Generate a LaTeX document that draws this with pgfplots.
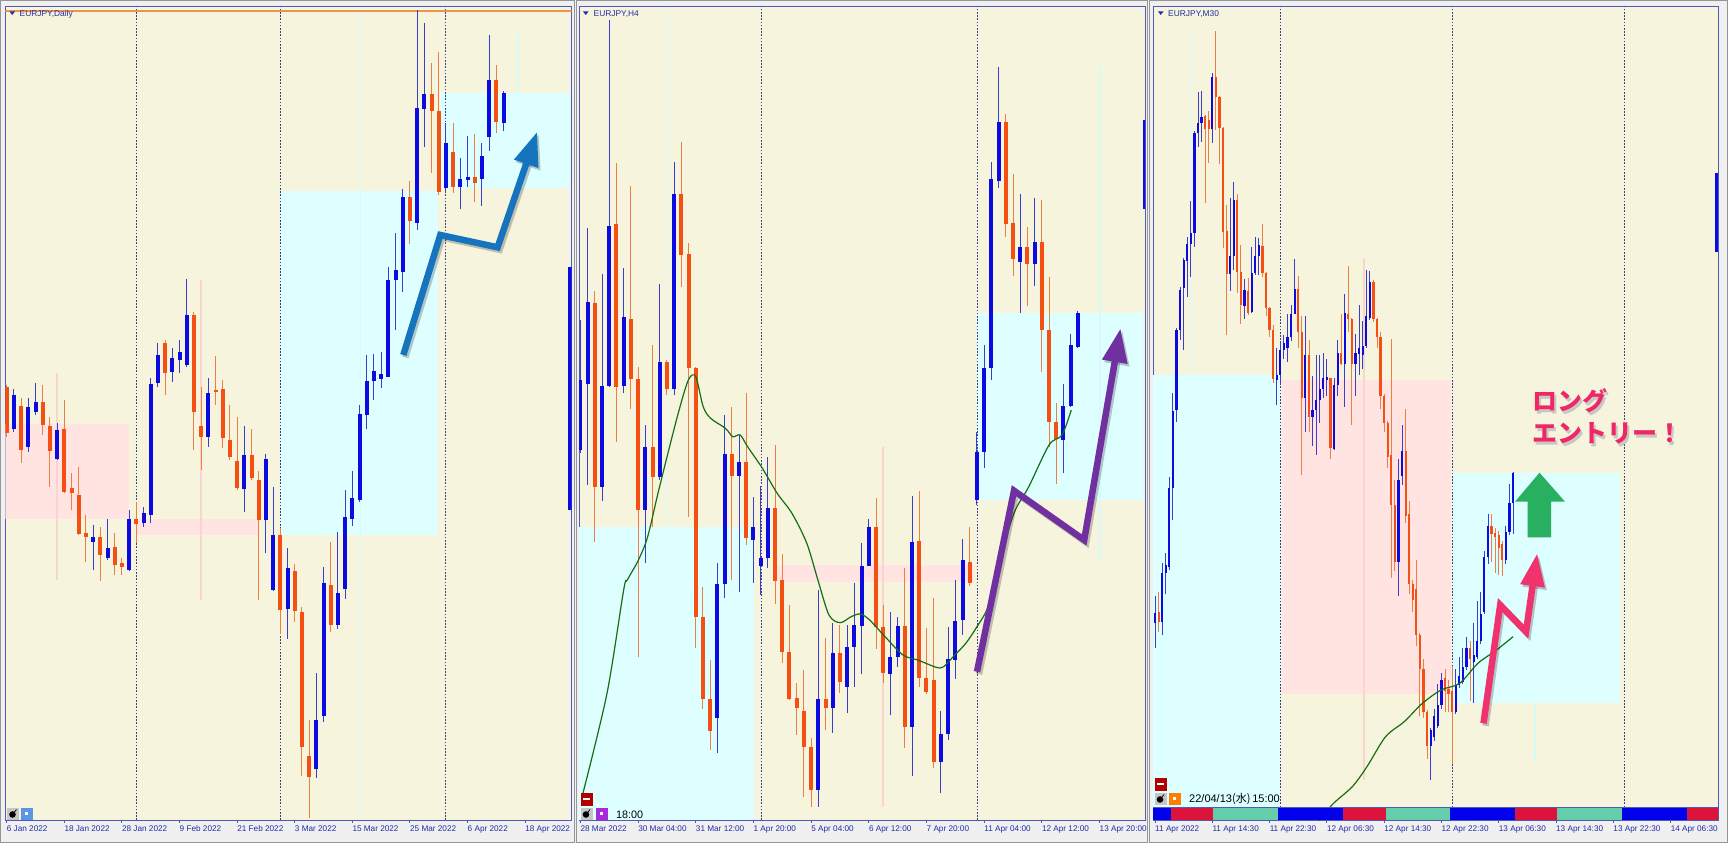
\documentclass[border=0pt]{standalone}
\usepackage{pgfplots}
\pgfplotsset{compat=1.18}
\usepackage{pgfplotstable}
\usepackage{fontspec}
\usepackage{pdfrender}
\setmainfont{Liberation Sans}
\newfontfamily\jp{Noto Sans CJK JP}
\usetikzlibrary{arrows.meta}

\definecolor{beige}{RGB}{246,244,221}
\definecolor{cyanbg}{RGB}{222,255,255}
\definecolor{pinkbg}{RGB}{255,228,225}
\definecolor{faintpink}{RGB}{250,212,205}
\definecolor{faintcyan}{RGB}{215,250,250}
\definecolor{framegray}{RGB}{240,240,240}
\definecolor{edgegray}{RGB}{150,150,150}
\definecolor{axisblue}{RGB}{80,90,185}
\definecolor{ticktext}{RGB}{35,45,165}
\definecolor{cup}{RGB}{10,10,225}
\definecolor{wup}{RGB}{60,60,205}
\definecolor{cdn}{RGB}{245,80,20}
\definecolor{wdn}{RGB}{240,125,70}
\definecolor{magreen}{RGB}{20,110,20}
\definecolor{topline}{RGB}{235,150,80}
\definecolor{dotblue}{RGB}{60,60,140}
\definecolor{arrblue}{RGB}{22,115,190}
\definecolor{arrpurple}{RGB}{112,48,160}
\definecolor{arrpink}{RGB}{240,50,110}
\definecolor{arrgreen}{RGB}{40,175,95}
\definecolor{jpink}{RGB}{238,40,100}
\definecolor{barblue}{RGB}{0,0,235}
\definecolor{barred}{RGB}{220,20,60}
\definecolor{barteal}{RGB}{100,205,170}
\definecolor{iconblue}{RGB}{90,150,230}
\definecolor{iconviolet}{RGB}{170,40,220}
\definecolor{shadowgray}{RGB}{200,200,195}

% ---------------- Panel 1 : EURJPY Daily ----------------
\pgfplotstableread{
i o c l h
1 414 448 411 454
3 396 436 391 445
4 431 441 428 460
7 384 413 383 420
12 301 306 273 318
14 285 295 283 324
17 273 324 272 333
19 320 330 316 336
20 328 459 320 465
21 460 488 456 500
23 471 485 461 495
24 483 491 470 503
25 478 528 476 564
28 406 450 396 465
33 354 388 331 417
36 323 384 290 389
37 253 308 252 356
39 234 275 204 295
43 74 123 65 170
44 127 260 121 276
46 218 250 214 311
47 254 326 244 353
48 324 345 317 372
49 343 429 341 438
50 428 462 414 488
51 462 472 443 489
52 464 469 455 491
53 466 563 466 576
54 563 573 513 610
55 571 646 551 654
57 620 735 613 833
58 734 749 696 820
61 655 700 650 720
63 656 664 634 685
64 663 666 656 707
66 664 687 637 700
67 706 763 692 808
69 720 750 712 752
78.3 333 576 333 576
}\pAup
\pgfplotstableread{
i o c l h
0 456 410 406 458
2 437 393 380 445
5 441 418 408 458
6 417 392 356 426
8 414 351 350 443
9 355 350 333 370
10 348 309 308 376
11 310 306 281 328
13 306 288 262 316
15 296 278 268 310
16 280 276 268 285
18 324 319 300 341
22 500 470 448 503
26 528 431 393 531
27 417 406 373 456
29 453 451 438 487
30 454 405 395 463
31 403 386 383 438
32 382 355 353 426
34 388 365 363 414
35 363 323 243 372
38 308 233 209 315
40 272 232 221 279
41 231 96 67 236
42 87 66 25 123
45 258 218 211 301
56 646 622 599 662
59 749 732 670 780
60 732 651 648 791
62 691 656 650 720
65 666 660 641 709
68 763 721 710 778
}\pAdn

% ---------------- Panel 2 : EURJPY H4 ----------------
\pgfplotstableread{
i o c l h
0 393 463 390 523
1 459 541 358 615
3 356 457 342 569
4 457 617 456 823
6 457 526 450 575
9 333 396 280 418
11 366 481 363 559
13 454 649 448 681
19 125 259 90 280
20 259 389 245 428
22 367 381 251 408
24 303 316 260 346
25 277 285 248 357
26 285 335 275 386
33 53 144 36 253
35 135 190 110 220
37 156 196 130 218
38 196 218 156 260
39 217 277 169 300
40 277 316 277 324
43 169 186 128 231
44 186 217 176 226
46 116 301 67 347
50 81 109 50 132
51 109 184 103 216
52 183 222 164 263
53 223 283 208 304
55 343 391 338 411
56 391 475 375 498
57 475 664 463 681
58 662 721 655 776
61 581 596 530 649
63 579 601 557 645
67 403 437 370 459
68 437 498 436 509
69 496 530 495 532
78.3 634 723 634 723
}\pBup
\pgfplotstableread{
i o c l h
2 540 356 301 552
5 619 456 401 680
7 524 464 434 657
8 464 333 186 476
10 396 366 316 498
12 481 454 448 483
14 649 588 556 701
15 589 475 326 600
16 475 226 195 476
17 226 144 134 256
18 144 112 93 183
21 389 367 263 436
23 381 305 298 450
27 335 262 239 398
28 263 191 180 289
29 191 144 143 238
30 145 135 108 160
31 132 96 46 173
32 96 53 36 105
34 144 135 113 205
36 190 161 150 218
41 316 216 194 345
42 216 170 160 238
45 217 116 95 275
47 302 165 156 352
48 165 151 149 215
49 163 81 75 245
54 281 260 257 316
59 721 619 606 729
60 620 584 567 669
62 596 579 537 616
64 601 513 471 643
65 513 421 396 566
66 421 404 359 440
}\pBdn

% ---------------- Panel 3 : EURJPY M30 ----------------
\pgfplotstableread{
i o c l h
0 220 230 195 247
2 221 270 208 280
3 270 278 249 290
4 276 355 273 366
5 355 432 323 450
6 433 513 421 515
7 513 553 503 556
8 555 583 493 585
9 582 599 546 606
10 599 610 566 642
11 610 710 596 712
12 710 720 696 751
13 720 726 701 752
16 714 766 700 770
21 569 587 552 645
22 587 643 573 661
25 537 553 524 564
27 531 570 530 596
28 570 587 568 606
29 587 598 568 605
34 463 468 438 495
35 468 493 459 502
36 493 500 484 508
37 495 506 481 529
38 506 529 502 538
39 529 554 529 584
42 445 488 411 527
44 426 433 397 467
45 433 443 388 488
46 443 454 420 488
47 454 465 445 490
48 463 466 447 484
50 394 458 393 465
51 458 490 447 503
53 479 530 436 549
56 479 490 447 509
57 489 495 468 538
58 488 497 474 522
59 497 527 495 573
60 525 561 523 572
68 281 363 247 384
69 367 392 358 418
77 97 113 63 115
78 106 127 102 134
79 117 138 115 159
80 138 163 134 170
84 131 158 129 174
85 158 167 155 186
86 161 176 159 195
87 176 195 173 206
89 181 188 140 220
90 186 202 184 242
91 202 229 199 251
92 231 286 229 292
93 286 317 279 329
98 283 311 279 317
99 311 340 308 359
100 340 370 309 371
}\pCup
\pgfplotstableread{
i o c l h
1 231 221 211 251
14 727 714 640 728
15 723 714 680 732
17 766 746 713 812
18 746 715 679 747
19 715 611 595 716
20 612 569 508 638
23 643 571 550 649
24 571 538 519 598
26 552 530 528 565
30 597 570 566 619
31 570 535 527 571
32 535 513 506 536
33 513 464 460 518
40 554 511 495 567
41 511 445 368 527
43 488 426 411 503
49 465 395 384 465
52 490 479 478 529
54 529 524 511 577
55 524 479 418 525
61 561 524 521 563
62 524 506 495 525
63 506 447 434 511
64 447 420 411 449
65 420 386 375 422
66 388 338 265 504
67 338 281 272 363
70 392 327 320 434
71 329 259 249 342
72 259 243 231 263
73 254 208 197 283
74 208 174 127 210
75 174 131 125 184
76 131 97 84 133
81 165 152 131 174
82 154 149 131 163
83 152 131 79 177
88 195 184 142 202
94 317 309 281 329
95 310 306 270 315
96 308 295 268 312
97 299 283 267 302
}\pCdn
\pgfplotstableread{
i o c l h
156.9 591 670 591 670
}\pCedge

\tikzset{dotline/.style={draw=dotblue, line width=0.9pt, dash pattern=on 1.6pt off 1.6pt}}
\pgfplotsset{
  panel/.style={
    scale only axis, width=566pt, height=814pt,
    ymin=23, ymax=837,
    axis background/.style={fill=beige},
    axis line style={draw=axisblue, line width=0.9pt},
    ytick=\empty,
    xtick pos=left,
    tick align=outside,
    major tick length=3pt,
    tick style={draw=axisblue, line width=0.9pt},
    xticklabel style={font=\fontsize{8.2}{9}\selectfont, text=ticktext, anchor=north west, inner sep=0pt, yshift=-2.5pt},
  },
  wick/.style={quiver={u=0, v=\thisrow{h}-\thisrow{l}}, -, line width=#1},
  wick/.default=1pt,
  body/.style={quiver={u=0, v=\thisrow{c}-\thisrow{o}}, -, line width=#1},
  body/.default=4pt,
}

\newcommand\jfont{\jp\bfseries\fontsize{25}{25}\selectfont}
\newcommand\outlined[3]{%
  \node[anchor=west, inner sep=0pt, text=shadowgray, font=\jfont] at (#1+2.5,#2-3)
    {\textpdfrender{TextRenderingMode=FillStroke, LineWidth=7}{#3}};
  \node[anchor=west, inner sep=0pt, text=white, font=\jfont] at (#1,#2)
    {\textpdfrender{TextRenderingMode=FillStroke, LineWidth=7}{#3}};
  \node[anchor=west, inner sep=0pt, text=jpink, font=\jfont] at (#1,#2)
    {\textpdfrender{TextRenderingMode=FillStroke, LineWidth=1.2}{#3}};
}

\begin{document}
\begin{tikzpicture}[x=1pt,y=1pt]
\useasboundingbox (0,0) rectangle (1728,843);
\fill[framegray] (0,0) rectangle (1728,843);
\draw[edgegray, line width=1pt] (0.8,0.8) rectangle (574.2,842.2);
\draw[edgegray, line width=1pt] (576.2,0.8) rectangle (1147.6,842.2);
\draw[edgegray, line width=1pt] (1149.8,0.8) rectangle (1727.2,842.2);

% ===================== Panel 1 =====================
\begin{axis}[panel, at={(5.5pt,23pt)}, anchor=south west,
  xmin=-0.167, xmax=78.44,
  xtick={0,8,...,72},
  xticklabels={6 Jan 2022,18 Jan 2022,28 Jan 2022,9 Feb 2022,21 Feb 2022,3 Mar 2022,15 Mar 2022,25 Mar 2022,6 Apr 2022,18 Apr 2022}]
  \fill[pinkbg] (-0.5,324) rectangle (16.94,419);
  \fill[pinkbg] (17.96,308) rectangle (34.9,324);
  \fill[cyanbg] (37.97,308) rectangle (59.96,652.3);
  \fill[cyanbg] (60.2,655.3) rectangle (78.2,749.7);
  \draw[faintpink, line width=1.5pt] (6.99,263) -- (6.99,470);
  \draw[faintpink, line width=1.5pt] (27,243) -- (27,563);
  \draw[faintcyan, line width=1.5pt] (49.17,23) -- (49.17,832);
  \draw[faintcyan, line width=1.5pt] (71,750) -- (71,810);
  \draw[dotline] (17.96,23) -- (17.96,837);
  \draw[dotline] (37.96,23) -- (37.96,837);
  \draw[dotline] (60.99,23) -- (60.99,837);
  \draw[topline, line width=1.3pt] (-0.5,832) -- (78.5,832);
  \addplot[wick, color=wup] table[x=i, y=l] {\pAup};
  \addplot[wick, color=wdn] table[x=i, y=l] {\pAdn};
  \addplot[body, color=cup] table[x=i, y=o] {\pAup};
  \addplot[body, color=cdn] table[x=i, y=o] {\pAdn};
\end{axis}

% ===================== Panel 2 =====================
\begin{axis}[panel, at={(579pt,23pt)}, anchor=south west,
  xmin=-0.194, xmax=78.31,
  xtick={0,8,...,72},
  xticklabels={28 Mar 2022,30 Mar 04:00,31 Mar 12:00,1 Apr 20:00,5 Apr 04:00,6 Apr 12:00,7 Apr 20:00,11 Apr 04:00,12 Apr 12:00,13 Apr 20:00}]
  \fill[cyanbg] (-0.5,23) rectangle (24.08,316);
  \fill[pinkbg] (26.99,261) rectangle (54.4,278);
  \fill[cyanbg] (55.0,343) rectangle (78.1,530);
  \draw[faintcyan, line width=1.5pt] (12.05,316) -- (12.05,836);
  \draw[faintpink, line width=1.5pt] (42.0,36) -- (42.0,396);
  \draw[faintcyan, line width=1.5pt] (72.04,283) -- (72.04,778);
  \draw[dotline] (25.09,23) -- (25.09,837);
  \draw[dotline] (55.0,23) -- (55.0,837);
  \addplot[wick, color=wup] table[x=i, y=l] {\pBup};
  \addplot[wick, color=wdn] table[x=i, y=l] {\pBdn};
  \addplot[body, color=cup] table[x=i, y=o] {\pBup};
  \addplot[body, color=cdn] table[x=i, y=o] {\pBdn};
  \addplot[magreen, line width=1.2pt, smooth] coordinates {
    (0.35,49.7) (3.69,149.7) (6.0,253) (6.51,263) (8.05,283) (9.33,306.3)
    (10.87,353) (13.44,426.3) (14.98,463) (16.0,466.3) (17.03,436.3) (18.06,424.7)
    (20.11,414.7) (21.13,406.3) (22.16,408) (23.19,396.3) (25.24,374.7) (27.29,349.7)
    (29.34,329.7) (31.4,299.7) (32.94,263) (34.48,228) (36.02,220.3) (37.55,226.3)
    (38.84,229) (40.12,223) (42.17,207) (44.74,188) (46.79,183) (49.36,175.7)
    (50.38,176.3) (51.92,188) (53.46,199.7) (55.0,216.3) (56.54,236.3) (58.08,279.7)
    (60.13,329.7) (62.19,356.3) (65.0,398) (66.8,408) (68.08,433)};
\end{axis}

% ===================== Panel 3 =====================
\begin{axis}[panel, at={(1153pt,23pt)}, anchor=south west, width=565pt,
  xmin=-0.56, xmax=157.26,
  xtick={0,16,...,144},
  xticklabels={11 Apr 2022,11 Apr 14:30,11 Apr 22:30,12 Apr 06:30,12 Apr 14:30,12 Apr 22:30,13 Apr 06:30,13 Apr 14:30,13 Apr 22:30,14 Apr 06:30}]
  \fill[cyanbg] (-1,36) rectangle (34.9,468);
  \fill[pinkbg] (35.5,149) rectangle (82.7,463);
  \fill[cyanbg] (83.0,140) rectangle (129.9,370);
  \draw[faintcyan, line width=1.5pt] (9.9,468) -- (9.9,813);
  \draw[faintpink, line width=1.5pt] (58.4,63) -- (58.4,585);
  \draw[faintcyan, line width=1.5pt] (106.1,80) -- (106.1,140);
  \draw[dotline] (34.9,23) -- (34.9,837);
  \draw[dotline] (83.0,23) -- (83.0,837);
  \draw[dotline] (131.0,23) -- (131.0,837);
  \addplot[wick=0.9pt, color=wup] table[x=i, y=l] {\pCup};
  \addplot[wick=0.9pt, color=wdn] table[x=i, y=l] {\pCdn};
  \addplot[body=2.2pt, color=cup] table[x=i, y=o] {\pCup};
  \addplot[body=2.2pt, color=cdn] table[x=i, y=o] {\pCdn};
  \addplot[body=3pt, color=cup] table[x=i, y=o] {\pCedge};
  \addplot[magreen, line width=1.2pt, smooth] coordinates {
    (44,14) (49.4,38) (55.1,56.3) (59.2,76.3) (64.4,106.3) (69.6,121.3)
    (74.7,139.7) (79.9,153) (85.1,159.7) (90.2,179.7) (95.4,193) (100,206.3)};
  % session colour bar
  \fill[barblue] (-1,23) rectangle (4.44,36);
  \fill[barred]  (4.44,23) rectangle (16.3,36);
  \fill[barteal] (16.3,23) rectangle (34.4,36);
  \fill[barblue] (34.4,23) rectangle (52.5,36);
  \fill[barred]  (52.5,23) rectangle (64.4,36);
  \fill[barteal] (64.4,23) rectangle (82.5,36);
  \fill[barblue] (82.5,23) rectangle (100.6,36);
  \fill[barred]  (100.6,23) rectangle (112.4,36);
  \fill[barteal] (112.4,23) rectangle (130.5,36);
  \fill[barblue] (130.5,23) rectangle (148.6,36);
  \fill[barred]  (148.6,23) rectangle (158,36);
  \draw[axisblue, line width=1pt] (-1,36) -- (158,36);
\end{axis}

% ---------- titles ----------
\fill[ticktext] (9.5,831.5) -- (15,831.5) -- (12.25,828) -- cycle;
\node[anchor=base west, inner sep=0pt, text=ticktext, font=\fontsize{8.4}{9}\selectfont] at (19.5,826.7) {EURJPY,Daily};
\fill[ticktext] (583,831.5) -- (588.5,831.5) -- (585.75,828) -- cycle;
\node[anchor=base west, inner sep=0pt, text=ticktext, font=\fontsize{8.4}{9}\selectfont] at (593.5,826.7) {EURJPY,H4};
\fill[ticktext] (1158,831.5) -- (1163.5,831.5) -- (1160.75,828) -- cycle;
\node[anchor=base west, inner sep=0pt, text=ticktext, font=\fontsize{8.4}{9}\selectfont] at (1168,826.7) {EURJPY,M30};

% ---------- small icons ----------
\fill[gray!45] (7,23.5) rectangle (19,35.5);
\fill[black] (12.5,28.5) circle (3.3); \draw[black, line width=0.8pt] (14.5,31) -- (16.5,33.5);
\fill[iconblue] (20.5,23.5) rectangle (32.5,35.5);
\fill[white] (25,28) rectangle (28,31);

\fill[red!70!black] (580.5,37.5) rectangle (592.5,50);
\fill[white] (583,43) rectangle (590,44.8);
\fill[gray!45] (580.5,23.5) rectangle (592.5,35.5);
\fill[black] (586,28.5) circle (3.3); \draw[black, line width=0.8pt] (588,31) -- (590,33.5);
\fill[iconviolet] (595.5,23.5) rectangle (607.5,35.5);
\fill[white] (600,28) rectangle (603,31);
\node[anchor=west, inner sep=0pt, font=\fontsize{10.8}{12}\selectfont] at (616,28.5) {18:00};

\fill[red!70!black] (1154.5,52.5) rectangle (1166.5,65);
\fill[white] (1157,58) rectangle (1164,59.8);
\fill[gray!45] (1154.5,38.5) rectangle (1166.5,50.5);
\fill[black] (1160,43.5) circle (3.3); \draw[black, line width=0.8pt] (1162,46) -- (1164,48.5);
\fill[orange] (1168.5,38.5) rectangle (1180.5,50.5);
\fill[white] (1173,43) rectangle (1176,46);
\node[anchor=west, inner sep=0pt, font=\fontsize{11}{12}\selectfont] at (1189,44.5) {22/04/13{\jp(水)}\,15:00};

% ---------- annotation arrows ----------
\begin{scope}[line width=6.5pt, line join=miter]
  \draw[black, opacity=0.22, -{Triangle[length=34pt,width=24pt]}, shift={(2,-2.5)}]
    (403.3,488) -- (440.3,608) -- (497.6,595.7) -- (537.2,711.3);
  \draw[arrblue, -{Triangle[length=34pt,width=24pt]}]
    (403.3,488) -- (440.3,608) -- (497.6,595.7) -- (537.2,711.3);
  \draw[black, opacity=0.22, -{Triangle[length=34pt,width=24pt]}, shift={(2,-2.5)}]
    (977,171.3) -- (1014,352.3) -- (1084.2,303) -- (1120.5,514.7);
  \draw[arrpurple, -{Triangle[length=34pt,width=24pt]}]
    (977,171.3) -- (1014,352.3) -- (1084.2,303) -- (1120.5,514.7);
  \draw[black, opacity=0.22, -{Triangle[length=33pt,width=23pt]}, shift={(2,-2.5)}]
    (1483.5,119.7) -- (1500.2,238) -- (1526,211.3) -- (1537.2,289.7);
  \draw[arrpink, -{Triangle[length=33pt,width=23pt]}]
    (1483.5,119.7) -- (1500.2,238) -- (1526,211.3) -- (1537.2,289.7);
\end{scope}
\fill[arrgreen] (1527.5,305.7) -- (1527.5,341.3) -- (1515,341.3) -- (1539.5,370.3) -- (1565,341.3) -- (1551,341.3) -- (1551,305.7) -- cycle;

% ---------- Japanese caption ----------
\outlined{1532}{442}{ロング}
\outlined{1532}{410}{エントリー！}
\end{tikzpicture}
\end{document}
